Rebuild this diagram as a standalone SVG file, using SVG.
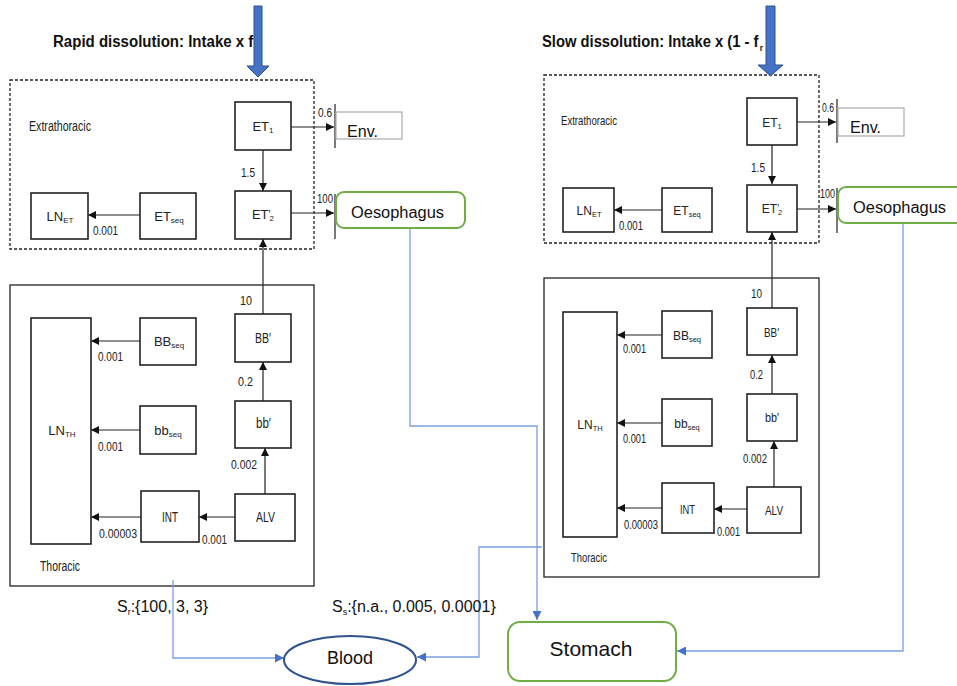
<svg xmlns="http://www.w3.org/2000/svg" width="957" height="686" viewBox="0 0 957 686">
<defs>
<style>
.bx{fill:#fff;stroke:#222;stroke-width:1.6}
.dash{fill:none;stroke:#222;stroke-width:1.3;stroke-dasharray:3 2}
.frame{fill:none;stroke:#333;stroke-width:1.4}
.ln{fill:none;stroke:#222;stroke-width:1.2}
.bl{fill:none;stroke:#7b9fe0;stroke-width:1.3}
.t{font-family:"Liberation Sans",Arial,sans-serif;font-size:14px;fill:#222}
.tr{font-family:"Liberation Sans",Arial,sans-serif;font-size:13px;fill:#222}
.s{font-family:"Liberation Sans",Arial,sans-serif;font-size:13px;fill:#222;text-anchor:middle}
.sr{font-family:"Liberation Sans",Arial,sans-serif;font-size:12px;fill:#222;text-anchor:middle}
.n{font-family:"Liberation Sans",Arial,sans-serif;font-size:12.5px;fill:#222}
.c{font-family:"Liberation Sans",Arial,sans-serif;fill:#111}
.h{font-family:"Liberation Sans",Arial,sans-serif;font-weight:bold;font-size:16px;fill:#111}
.green{fill:#fff;stroke:#70ad47;stroke-width:2}
.env{fill:#fff;stroke:#aaa;stroke-width:1.2}
.big{fill:#4472c4;stroke:#2f528f;stroke-width:1}
</style>
<marker id="ah" viewBox="0 0 10 10" refX="10" refY="5" markerWidth="9" markerHeight="8" markerUnits="userSpaceOnUse" orient="auto">
<path d="M0,0 L10,5 L0,10 z" fill="#111"/>
</marker>
<marker id="bh" viewBox="0 0 10 10" refX="10" refY="5" markerWidth="10" markerHeight="9" markerUnits="userSpaceOnUse" orient="auto">
<path d="M0,0 L10,5 L0,10 z" fill="#4472c4"/>
</marker>
</defs>
<rect width="957" height="686" fill="#fff"/>

<!-- Titles -->
<g id="title-rapid">
<text class="h" x="53" y="47" textLength="205" lengthAdjust="spacingAndGlyphs">Rapid dissolution: Intake x f<tspan font-size="9" dx="1.5" dy="4">r</tspan></text>
</g>
<g id="title-slow">
<text class="h" x="542" y="47" textLength="221" lengthAdjust="spacingAndGlyphs">Slow dissolution: Intake x (1 - f<tspan font-size="9" dx="1.5" dy="4">r</tspan></text>
</g>

<!-- Frames -->
<g id="left-et-frame">
<rect class="dash" x="10" y="80" width="304" height="169"/>
<text class="t" x="29" y="131" font-size="13" textLength="62" lengthAdjust="spacingAndGlyphs">Extrathoracic</text>
</g>
<g id="left-th-frame">
<rect class="frame" x="10" y="285" width="304" height="301"/>
<text class="t" x="40" y="571" font-size="13" textLength="40" lengthAdjust="spacingAndGlyphs">Thoracic</text>
</g>
<g id="right-et-frame">
<rect class="dash" x="544" y="75" width="275" height="168"/>
<text class="tr" x="561" y="125" font-size="12.5" textLength="56" lengthAdjust="spacingAndGlyphs">Extrathoracic</text>
</g>
<g id="right-th-frame">
<rect class="frame" x="544" y="278" width="275" height="299"/>
<text class="tr" x="571" y="562" font-size="12.5" textLength="36" lengthAdjust="spacingAndGlyphs">Thoracic</text>
</g>

<!-- Connectors -->
<g id="connectors">
<path class="ln" d="M291,127 H334" marker-end="url(#ah)"/>
<path class="ln" d="M263,150 V191" marker-end="url(#ah)"/>
<path class="ln" d="M291,213 H334" marker-end="url(#ah)"/>
<path class="ln" d="M140,215 H88" marker-end="url(#ah)"/>
<path class="ln" d="M263,314 V239" marker-end="url(#ah)"/>
<path class="ln" d="M263,401 V362" marker-end="url(#ah)"/>
<path class="ln" d="M265,494 V448" marker-end="url(#ah)"/>
<path class="ln" d="M235,517 H199" marker-end="url(#ah)"/>
<path class="ln" d="M141,517 H91" marker-end="url(#ah)"/>
<path class="ln" d="M140,341 H91" marker-end="url(#ah)"/>
<path class="ln" d="M140,430 H91" marker-end="url(#ah)"/>
<path class="ln" d="M335,104 V148 M335,194 V239"/>
<path class="ln" d="M797,122 H836" marker-end="url(#ah)"/>
<path class="ln" d="M772,145 V184" marker-end="url(#ah)"/>
<path class="ln" d="M797,209 H836" marker-end="url(#ah)"/>
<path class="ln" d="M662,210 H614" marker-end="url(#ah)"/>
<path class="ln" d="M772,308 V232" marker-end="url(#ah)"/>
<path class="ln" d="M772,394 V355" marker-end="url(#ah)"/>
<path class="ln" d="M774,487 V441" marker-end="url(#ah)"/>
<path class="ln" d="M747,509 H714" marker-end="url(#ah)"/>
<path class="ln" d="M662,508 H617" marker-end="url(#ah)"/>
<path class="ln" d="M662,335 H617" marker-end="url(#ah)"/>
<path class="ln" d="M662,423 H617" marker-end="url(#ah)"/>
<path class="ln" d="M837,99 V143 M837,188 V233"/>
<path class="bl" d="M410,228 V426 H537 V620" marker-end="url(#bh)"/>
<path class="bl" d="M903,223 V651 H677" marker-end="url(#bh)"/>
<path class="bl" d="M173,580 V658 H284" marker-end="url(#bh)"/>
<path class="bl" d="M542,547 H479 V657 H417" marker-end="url(#bh)"/>
<path class="big" d="M254,6 H262 V66 H269 L258,77 L247,66 H254 Z"/>
<path class="big" d="M766,6 H775 V65 H783 L770.5,76 L758,65 H766 Z"/>
</g>

<!-- Connector labels -->
<g id="rate-labels">
<text class="n" x="318" y="117" textLength="14" lengthAdjust="spacingAndGlyphs">0.6</text>
<text class="n" x="241" y="177" textLength="14" lengthAdjust="spacingAndGlyphs">1.5</text>
<text class="n" x="317" y="203" textLength="16" lengthAdjust="spacingAndGlyphs">100</text>
<text class="n" x="93" y="235" textLength="25" lengthAdjust="spacingAndGlyphs">0.001</text>
<text class="n" x="240" y="305" textLength="12" lengthAdjust="spacingAndGlyphs">10</text>
<text class="n" x="98" y="361" textLength="25" lengthAdjust="spacingAndGlyphs">0.001</text>
<text class="n" x="98" y="451" textLength="25" lengthAdjust="spacingAndGlyphs">0.001</text>
<text class="n" x="99" y="538" textLength="38" lengthAdjust="spacingAndGlyphs">0.00003</text>
<text class="n" x="202" y="544" textLength="25" lengthAdjust="spacingAndGlyphs">0.001</text>
<text class="n" x="238" y="386" textLength="15" lengthAdjust="spacingAndGlyphs">0.2</text>
<text class="n" x="231" y="469" textLength="26" lengthAdjust="spacingAndGlyphs">0.002</text>

<text class="n" x="822" y="112" textLength="12" lengthAdjust="spacingAndGlyphs">0.6</text>
<text class="n" x="751" y="172" textLength="14" lengthAdjust="spacingAndGlyphs">1.5</text>
<text class="n" x="820" y="198" textLength="15" lengthAdjust="spacingAndGlyphs">100</text>
<text class="n" x="619" y="230" textLength="24" lengthAdjust="spacingAndGlyphs">0.001</text>
<text class="n" x="751" y="298" textLength="11" lengthAdjust="spacingAndGlyphs">10</text>
<text class="n" x="623" y="353" textLength="23" lengthAdjust="spacingAndGlyphs">0.001</text>
<text class="n" x="623" y="443" textLength="23" lengthAdjust="spacingAndGlyphs">0.001</text>
<text class="n" x="624" y="529" textLength="34" lengthAdjust="spacingAndGlyphs">0.00003</text>
<text class="n" x="717" y="536" textLength="23" lengthAdjust="spacingAndGlyphs">0.001</text>
<text class="n" x="750" y="379" textLength="13" lengthAdjust="spacingAndGlyphs">0.2</text>
<text class="n" x="743" y="463" textLength="24" lengthAdjust="spacingAndGlyphs">0.002</text>
</g>

<!-- Left nodes -->
<g id="L-ET1"><rect class="bx" x="235" y="102" width="56" height="48"/><text class="s" x="263" y="131">ET<tspan font-size="8" dy="2">1</tspan></text></g>
<g id="L-ET2"><rect class="bx" x="235" y="191" width="56" height="48"/><text class="s" x="263" y="219">ET<tspan font-size="11" dy="-1">′</tspan><tspan font-size="8" dx="-1" dy="3">2</tspan></text></g>
<g id="L-LNET"><rect class="bx" x="31" y="193" width="57" height="46"/><text class="s" x="60" y="221">LN<tspan font-size="8" dy="2">ET</tspan></text></g>
<g id="L-ETseq"><rect class="bx" x="140" y="193" width="56" height="46"/><text class="s" x="169" y="221">ET<tspan font-size="8" dy="2">seq</tspan></text></g>
<g id="L-BB"><rect class="bx" x="235" y="314" width="56" height="48"/><text class="t" x="255" y="343" textLength="16" lengthAdjust="spacingAndGlyphs">BB′</text></g>
<g id="L-bb"><rect class="bx" x="235" y="401" width="56" height="47"/><text class="t" x="256" y="428" textLength="15" lengthAdjust="spacingAndGlyphs">bb′</text></g>
<g id="L-ALV"><rect class="bx" x="235" y="494" width="60" height="47"/><text class="t" x="256" y="522" textLength="19" lengthAdjust="spacingAndGlyphs">ALV</text></g>
<g id="L-INT"><rect class="bx" x="141" y="491" width="58" height="51"/><text class="t" x="162" y="522" textLength="16" lengthAdjust="spacingAndGlyphs">INT</text></g>
<g id="L-BBseq"><rect class="bx" x="140" y="318" width="56" height="47"/><text class="s" x="169" y="346">BB<tspan font-size="8" dy="2">seq</tspan></text></g>
<g id="L-bbseq"><rect class="bx" x="140" y="406" width="56" height="48"/><text class="s" x="168" y="435">bb<tspan font-size="8" dy="2">seq</tspan></text></g>
<g id="L-LNTH"><rect class="bx" x="31" y="318" width="60" height="226"/><text class="s" x="62" y="435">LN<tspan font-size="8" dy="2">TH</tspan></text></g>
<g id="L-Env"><rect class="env" x="336" y="112" width="66" height="27"/><text class="c" x="347" y="137" font-size="16" textLength="31" lengthAdjust="spacingAndGlyphs">Env.</text></g>
<g id="L-Oes"><rect class="green" x="336" y="192" width="129" height="36" rx="8"/><text class="c" x="351" y="218" font-size="16" textLength="93" lengthAdjust="spacingAndGlyphs">Oesophagus</text></g>

<!-- Right nodes -->
<g id="R-ET1"><rect class="bx" x="747" y="98" width="50" height="47"/><text class="sr" x="772" y="127">ET<tspan font-size="7.5" dy="2">1</tspan></text></g>
<g id="R-ET2"><rect class="bx" x="747" y="185" width="50" height="47"/><text class="sr" x="772" y="213">ET<tspan font-size="10" dy="-1">′</tspan><tspan font-size="7.5" dx="-1" dy="3">2</tspan></text></g>
<g id="R-LNET"><rect class="bx" x="563" y="188" width="51" height="44"/><text class="sr" x="589" y="215">LN<tspan font-size="7.5" dy="2">ET</tspan></text></g>
<g id="R-ETseq"><rect class="bx" x="662" y="188" width="50" height="44"/><text class="sr" x="687" y="215">ET<tspan font-size="7.5" dy="2">seq</tspan></text></g>
<g id="R-BB"><rect class="bx" x="747" y="308" width="50" height="47"/><text class="tr" x="764" y="337" textLength="15" lengthAdjust="spacingAndGlyphs">BB′</text></g>
<g id="R-bb"><rect class="bx" x="747" y="394" width="50" height="47"/><text class="tr" x="765" y="422" textLength="14" lengthAdjust="spacingAndGlyphs">bb′</text></g>
<g id="R-ALV"><rect class="bx" x="747" y="487" width="54" height="46"/><text class="tr" x="765" y="515" textLength="18" lengthAdjust="spacingAndGlyphs">ALV</text></g>
<g id="R-INT"><rect class="bx" x="662" y="483" width="52" height="50"/><text class="tr" x="680" y="514" textLength="15" lengthAdjust="spacingAndGlyphs">INT</text></g>
<g id="R-BBseq"><rect class="bx" x="662" y="311" width="50" height="47"/><text class="sr" x="687" y="340">BB<tspan font-size="7.5" dy="2">seq</tspan></text></g>
<g id="R-bbseq"><rect class="bx" x="662" y="399" width="50" height="47"/><text class="sr" x="687" y="428">bb<tspan font-size="7.5" dy="2">seq</tspan></text></g>
<g id="R-LNTH"><rect class="bx" x="563" y="312" width="54" height="225"/><text class="sr" x="590" y="429">LN<tspan font-size="7.5" dy="2">TH</tspan></text></g>
<g id="R-Env"><rect class="env" x="838" y="108" width="66" height="28"/><text class="c" x="850" y="133" font-size="16" textLength="31" lengthAdjust="spacingAndGlyphs">Env.</text></g>
<g id="R-Oes"><rect class="green" x="838" y="187" width="130" height="36" rx="8"/><text class="c" x="853" y="213" font-size="16" textLength="93" lengthAdjust="spacingAndGlyphs">Oesophagus</text></g>

<!-- Bottom nodes -->
<g id="Blood"><ellipse cx="350" cy="660" rx="66" ry="24" fill="#fff" stroke="#2f528f" stroke-width="2"/><text class="c" x="350" y="664" font-size="18" text-anchor="middle">Blood</text></g>
<g id="Stomach"><rect class="green" x="508" y="622" width="168" height="59" rx="12"/><text class="c" x="591" y="656" font-size="21" text-anchor="middle">Stomach</text></g>

<g id="S-labels">
<text class="c" x="117" y="612" font-size="16">S<tspan font-size="9" dy="3">r</tspan><tspan dy="-3">:{100, 3, 3}</tspan></text>
<text class="c" x="332" y="612" font-size="16">S<tspan font-size="9" dy="3">s</tspan><tspan dy="-3">:{n.a., 0.005, 0.0001}</tspan></text>
</g>
</svg>
